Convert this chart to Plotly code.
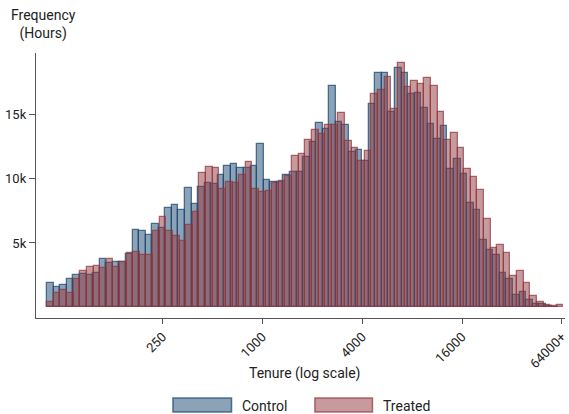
import math
import plotly.graph_objects as go

# ---- data (histogram counts per log-tenure bin) ----
control_counts = [1890, 1578, 1734, 2202, 2499, 2538, 2515, 2640, 3764, 3452,
                  3499, 3475, 4100, 6037, 5920, 5608, 6498, 6193, 7732, 7966,
                  7576, 9310, 8044, 9395, 9700, 9622, 10309, 11012, 11168, 10856,
                  10856, 11028, 12746, 9934, 9747, 9763, 10325, 10559, 10559, 11731,
                  12847, 14386, 13863, 17244, 14464, 14175, 12066, 12285, 11387, 15870,
                  18260, 18260, 15190, 18682, 18291, 16651, 16729, 15558, 14292, 13144,
                  14152, 10739, 11574, 10348, 8138, 7537, 5194, 4413, 4077, 2616,
                  2202, 953, 1187, 586, 273, 250, 62, 40]
treated_counts = [406, 1109, 1367, 1070, 2148, 2827, 3124, 3218, 3007, 3764,
                  3085, 3515, 4178, 4319, 4061, 4061, 5951, 7045, 5951, 5561,
                  5178, 6404, 7443, 10481, 10950, 10872, 9239, 9778, 9684, 10325,
                  11325, 9177, 8997, 9075, 9645, 9802, 10208, 11777, 11965, 13043,
                  13824, 13527, 14175, 14199, 15136, 12965, 12402, 11387, 12168, 16596,
                  16909, 17979, 15425, 19072, 17198, 17635, 17432, 17901, 17244, 15230,
                  13004, 13605, 12434, 10739, 10169, 9122, 6888, 4592, 4827, 4233,
                  2405, 2796, 1890, 898, 430, 195, 62, 140]

bin_start_log10 = 1.7026          # lower edge of first bin, log10(hours)
control_bin_width_log10 = 0.03956
treated_bin_width_log10 = 0.0399

tick_hours = [250, 1000, 4000, 16000, 64000]
tick_labels = ["250", "1000", "4000", "16000", "64000+"]
y_ticks = [5000, 10000, 15000]
y_tick_labels = ["5k", "10k", "15k"]

series_names = ["Control", "Treated"]

# ---- build ----
def centers(n, width):
    return [bin_start_log10 + (k + 0.5) * width for k in range(n)]

fill_c = "rgba(26,71,111,0.5)"
line_c = "rgba(26,71,111,0.72)"
fill_t = "rgba(144,53,59,0.5)"
line_t = "rgba(144,53,59,0.7)"

fig = go.Figure()
fig.add_trace(go.Bar(
    x=centers(len(control_counts), control_bin_width_log10), y=control_counts,
    width=control_bin_width_log10, name=series_names[0],
    marker=dict(color=fill_c, line=dict(color=line_c, width=1.3)),
    showlegend=False))
fig.add_trace(go.Bar(
    x=centers(len(treated_counts), treated_bin_width_log10), y=treated_counts,
    width=treated_bin_width_log10, name=series_names[1],
    marker=dict(color=fill_t, line=dict(color=line_t, width=1.3)),
    showlegend=False))

font = "Roboto, Arial, sans-serif"
axis_col = "#555555"

fig.update_layout(
    width=569, height=414,
    margin=dict(l=36, r=0, t=53, b=96),
    barmode="overlay", bargap=0,
    plot_bgcolor="white", paper_bgcolor="white",
    font=dict(family=font, size=13, color="#222222"),
    xaxis=dict(range=[1.635, 4.8246],
               tickvals=[math.log10(t) for t in tick_hours], ticktext=tick_labels,
               tickangle=-45, ticks="outside", ticklen=5, tickcolor=axis_col,
               ticklabeloverflow="allow",
               showline=True, linecolor=axis_col, linewidth=1.3,
               showgrid=False, zeroline=False, tickfont=dict(size=13)),
    yaxis=dict(range=[-857, 19821], tickvals=y_ticks, ticktext=y_tick_labels,
               ticks="outside", ticklen=6, tickcolor=axis_col,
               showline=True, linecolor=axis_col, linewidth=1.3,
               showgrid=False, zeroline=False, tickfont=dict(size=13)),
)

# y title at top-left
fig.add_annotation(text="Frequency<br>(Hours)", xref="paper", yref="paper",
                   x=(44 - 36) / 533, y=1 + (53 - 24) / 265, showarrow=False,
                   xanchor="center", yanchor="middle", align="center",
                   font=dict(size=14, family=font, color="#222222"))
# x title
fig.add_annotation(text="Tenure (log scale)", xref="paper", yref="paper",
                   x=(306.5 - 36) / 533, y=(318 - 373) / 265, showarrow=False,
                   xanchor="center", yanchor="middle",
                   font=dict(size=14, family=font, color="#222222"))

# legend drawn below
def px_x(p):
    return (p - 36) / 533

def px_y(p):
    return (318 - p) / 265

legend_items = [(series_names[0], fill_c, line_c, 174, 233, 242),
                (series_names[1], fill_t, line_t, 317, 375, 384)]
for name, fc, lc, x0, x1, tx in legend_items:
    fig.add_shape(type="rect", xref="paper", yref="paper",
                  x0=px_x(x0), x1=px_x(x1), y0=px_y(412), y1=px_y(398),
                  fillcolor=fc, line=dict(color=lc, width=1.5))
    fig.add_annotation(text=name, xref="paper", yref="paper",
                       x=px_x(tx), y=px_y(405.5), showarrow=False,
                       xanchor="left", yanchor="middle",
                       font=dict(size=14, family=font, color="#222222"))

fig.write_html("out.html")
